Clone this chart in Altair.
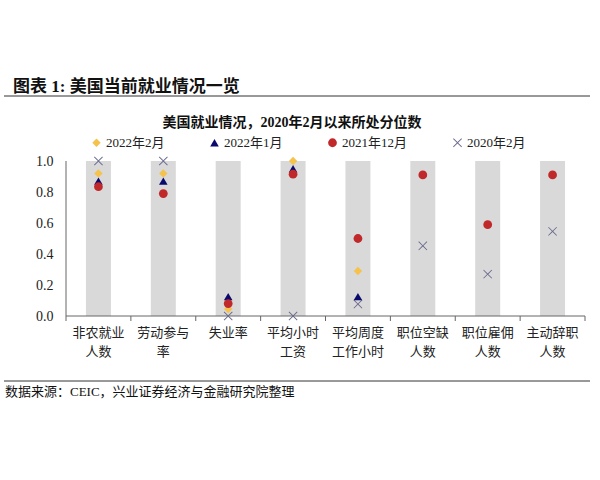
import altair as alt
import pandas as pd

categories = ["非农就业|人数", "劳动参与|率", "失业率", "平均小时|工资", "平均周度|工作小时",
              "职位空缺|人数", "职位雇佣|人数", "主动辞职|人数"]
series_names = ["2022年2月", "2022年1月", "2021年12月", "2020年2月"]
feb_2022 = [0.92, 0.92, 0.045, 1.0, 0.29, None, None, None]
jan_2022 = [0.87, 0.87, 0.125, 0.95, 0.125, None, None, None]
dec_2021 = [0.834, 0.79, 0.08, 0.915, 0.50, 0.91, 0.589, 0.91]
feb_2020 = [1.0, 1.0, 0.0, 0.0, 0.077, 0.453, 0.27, 0.546]
bar_top = [1.0] * 8

header = "图表 1:  美国当前就业情况一览"
subtitle = "美国就业情况，2020年2月以来所处分位数"
source = "数据来源：CEIC，兴业证券经济与金融研究院整理"

FONT = "Liberation Serif, Noto Sans CJK SC"
CJK = "Noto Sans CJK SC"
AXIS_GREY = "#666666"
W, H = 519, 155
OX, OY = 66, 161

rows = []
# draw order: X first, then diamond, triangle, circle on top
for name, vals in [("2020年2月", feb_2020), ("2022年2月", feb_2022),
                   ("2022年1月", jan_2022), ("2021年12月", dec_2021)]:
    for c, v in zip(categories, vals):
        if v is not None:
            rows.append({"cat": c, "series": name, "value": v})
pts = pd.DataFrame(rows)
bars = pd.DataFrame({"cat": categories, "top": bar_top})

xscale = alt.Scale(domain=categories, paddingInner=0, paddingOuter=0)
xaxis = alt.Axis(title=None, labelAngle=0, labelExpr="split(datum.label, '|')",
                 labelFont=CJK, labelFontSize=13, labelColor="#222222",
                 labelPadding=10, labelLineHeight=19, ticks=False, domain=False)
yscale = alt.Scale(domain=[0, 1])
yaxis = alt.Axis(title=None, values=[0, 0.2, 0.4, 0.6, 0.8, 1.0], format=".1f",
                 grid=False, ticks=False, labelPadding=13, labelFont=FONT,
                 labelFontSize=14, labelColor="#222222", labelOverlap=False,
                 domain=False)

bar_layer = alt.Chart(bars).mark_bar(color="#d9d9d9", width=alt.RelativeBandSize(0.385)).encode(
    x=alt.X("cat:N", scale=xscale, axis=xaxis, sort=categories),
    y=alt.Y("top:Q", scale=yscale, axis=yaxis),
)

x_path = ("M-1,-0.86L-0.86,-1L0,-0.14L0.86,-1L1,-0.86L0.14,0L1,0.86L0.86,1L0,0.14"
          "L-0.86,1L-1,0.86L-0.14,0Z")

point_layer = alt.Chart(pts).mark_point(filled=True, opacity=1).encode(
    x=alt.X("cat:N", scale=xscale, axis=xaxis, sort=categories),
    y=alt.Y("value:Q", scale=yscale, axis=yaxis),
    color=alt.Color("series:N", scale=alt.Scale(domain=series_names,
                    range=["#f5c24c", "#0a0a6e", "#c0282a", "#6a6a8e"]),
                    legend=alt.Legend(title=None, orient="none", direction="horizontal",
                                      legendX=24, legendY=-25, columnPadding=43,
                                      symbolSize=40, labelOffset=3,
                                      labelFont=FONT, labelFontSize=13,
                                      labelColor="#222222")),
    shape=alt.Shape("series:N", scale=alt.Scale(domain=series_names,
                    range=["diamond", "triangle-up", "circle", x_path])),
    size=alt.Size("series:N", scale=alt.Scale(domain=series_names,
                  range=[70, 80, 60, 110]), legend=None),
)


def text_layer(txt, x, y, size, weight="normal", align="left", font=CJK):
    return alt.Chart(pd.DataFrame({"t": [txt]})).mark_text(
        align=align, baseline="middle", fontSize=size, fontWeight=weight,
        font=font, color="#111111").encode(
        text="t:N", x=alt.value(x), y=alt.value(y))


def hrule(x1, x2, y, color, w):
    return alt.Chart(pd.DataFrame({"a": [0]})).mark_rule(color=color, strokeWidth=w).encode(
        x=alt.value(x1), x2=alt.value(x2), y=alt.value(y))


def vrule(x, y1, y2, color, w):
    return alt.Chart(pd.DataFrame({"a": [0]})).mark_rule(color=color, strokeWidth=w).encode(
        x=alt.value(x), y=alt.value(y1), y2=alt.value(y2))


# tick marks at category boundaries, below the x axis
tick_layer = alt.Chart(bars).mark_rule(color=AXIS_GREY, strokeWidth=1).encode(
    x=alt.X("cat:N", scale=xscale, axis=xaxis, sort=categories, bandPosition=0),
    y=alt.value(H), y2=alt.value(H + 5),
)

layers = [
    bar_layer,
    point_layer,
    hrule(0, W, H, AXIS_GREY, 1),
    vrule(0, 0, H, AXIS_GREY, 1),
    tick_layer,
    vrule(W, H, H + 5, AXIS_GREY, 1),
    text_layer(header, 13 - OX, 87 - OY, 17, "bold", "left", FONT),
    hrule(4 - OX, 590 - OX, 96 - OY, "#333333", 1),
    text_layer(subtitle, 292 - OX, 123 - OY, 14, "bold", "center", FONT),
    hrule(4 - OX, 590 - OX, 381 - OY, "#333333", 1),
    text_layer(source, 5 - OX, 392 - OY, 13, "normal", "left", FONT),
]

chart = alt.layer(*layers).properties(
    width=W, height=H,
    autosize=alt.AutoSizeParams(type="none"),
    padding={"left": OX, "top": OY, "right": 15, "bottom": 164},
    background="white",
).configure_view(stroke=None)

chart.save("out.html", embed_options={"renderer": "svg", "actions": False})
